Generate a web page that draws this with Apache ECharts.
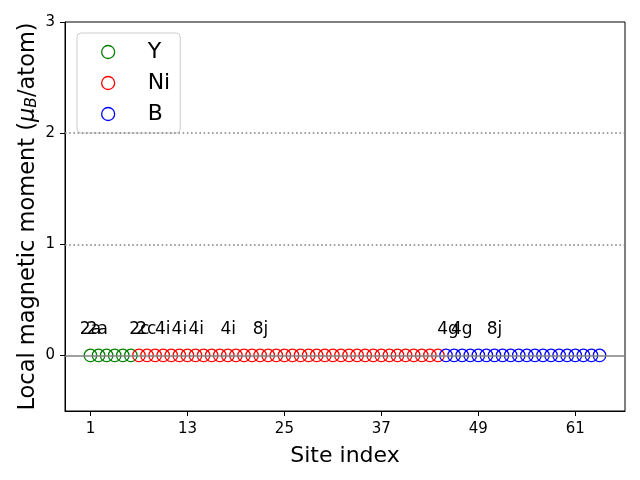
<!DOCTYPE html>
<html>
<head>
<meta charset="utf-8">
<script src="https://cdn.jsdelivr.net/npm/echarts@6/dist/echarts.min.js"></script>
<style>html,body{margin:0;padding:0;background:#fff}#c{width:640px;height:480px}</style>
</head>
<body>
<div id="c"></div>
<script>
// Site indices and local moments per element
const ySites = [1, 2, 3, 4, 5, 6];
const yMoments = [0, 0, 0, 0, 0, 0];
const niSites = [7, 8, 9, 10, 11, 12, 13, 14, 15, 16, 17, 18, 19, 20, 21, 22, 23, 24, 25,
  26, 27, 28, 29, 30, 31, 32, 33, 34, 35, 36, 37, 38, 39, 40, 41, 42, 43, 44];
const niMoments = [0, 0, 0, 0, 0, 0, 0, 0, 0, 0, 0, 0, 0, 0, 0, 0, 0, 0, 0,
  0, 0, 0, 0, 0, 0, 0, 0, 0, 0, 0, 0, 0, 0, 0, 0, 0, 0, 0];
const bSites = [45, 46, 47, 48, 49, 50, 51, 52, 53, 54, 55, 56, 57, 58, 59, 60, 61, 62, 63, 64];
const bMoments = [0, 0, 0, 0, 0, 0, 0, 0, 0, 0, 0, 0, 0, 0, 0, 0, 0, 0, 0, 0];

// Wyckoff annotations
const wyckoffLabels = ['2a', '2a', '2c', '2c', '4i', '4i', '4i', '4i', '8j', '4g', '4g', '8j'];
const wyckoffX = [1.0, 1.85, 7.05, 7.9, 9.95, 12.0, 14.1, 18.05, 22.05, 45.25, 46.95, 51.0];
const wyckoffY = [0.155, 0.155, 0.155, 0.155, 0.155, 0.155, 0.155, 0.155, 0.155, 0.155, 0.155, 0.155];

const xTicks = [1, 13, 25, 37, 49, 61];
const yTicks = [0, 1, 2, 3];
const refLines = [0, 1, 2];

const FONT = 'DejaVu Sans';
const pair = (xs, ys) => xs.map((x, i) => [x, ys[i]]);

function hollow(name, color, xs, ys) {
  return {
    name: name, type: 'scatter', data: pair(xs, ys),
    symbol: 'circle', symbolSize: 12.5,
    itemStyle: { color: 'rgba(0,0,0,0)', borderColor: color, borderWidth: 1.3, opacity: 1 },
    z: 3, silent: true
  };
}

const chart = echarts.init(document.getElementById('c'), null, { renderer: 'canvas' });
chart.setOption({
  animation: false,
  backgroundColor: '#fff',
  textStyle: { fontFamily: FONT },
  grid: { left: 65, right: 15, top: 22, bottom: 69, show: true, borderColor: '#000', borderWidth: 1, backgroundColor: 'transparent' },
  xAxis: {
    type: 'value', min: -2.15, max: 67.15,
    name: 'Site index', nameLocation: 'middle', nameGap: 34, nameMoveOverlap: false,
    nameTextStyle: { fontSize: 22, color: '#000', fontFamily: FONT },
    axisLine: { show: true, onZero: false, lineStyle: { color: '#000', width: 1 } },
    axisTick: { show: true, length: 5, customValues: xTicks, lineStyle: { color: '#000' } },
    axisLabel: { customValues: xTicks, fontSize: 15, color: '#000', margin: 11, fontFamily: FONT },
    splitLine: { show: false }
  },
  yAxis: {
    type: 'value', min: -0.5, max: 3,
    name: 'Local magnetic moment ({mu|μ}{sub|B}/atom)', nameLocation: 'middle', nameGap: 25, nameRotate: 90,
    nameMoveOverlap: false,
    nameTextStyle: {
      fontSize: 22.5, color: '#000', fontFamily: FONT,
      rich: {
        mu: { fontSize: 22.5, fontStyle: 'italic', color: '#000', fontFamily: FONT },
        sub: { fontSize: 15.5, fontStyle: 'italic', color: '#000', fontFamily: FONT, verticalAlign: 'bottom', padding: [8, 0, 0, 0] }
      }
    },
    axisLine: { show: true, onZero: false, lineStyle: { color: '#000', width: 1 } },
    axisTick: { show: true, length: 5, customValues: yTicks, lineStyle: { color: '#000' } },
    axisLabel: { customValues: yTicks, fontSize: 15, color: '#000', margin: 10, fontFamily: FONT },
    splitLine: { show: false }
  },
  legend: {
    orient: 'vertical', left: 77, top: 33,
    backgroundColor: 'rgba(255,255,255,0.8)', borderColor: '#cccccc', borderWidth: 1, borderRadius: 4,
    padding: [8, 10, 8, 24], itemWidth: 13, itemHeight: 13, itemGap: 9,
    textStyle: { fontSize: 22, lineHeight: 22, color: '#000', fontFamily: FONT, padding: [0, 0, 0, 28] },
    data: [
      { name: 'Y', icon: 'circle', itemStyle: { color: 'rgba(0,0,0,0)', borderColor: 'green', borderWidth: 1.3 } },
      { name: 'Ni', icon: 'circle', itemStyle: { color: 'rgba(0,0,0,0)', borderColor: 'red', borderWidth: 1.3 } },
      { name: 'B', icon: 'circle', itemStyle: { color: 'rgba(0,0,0,0)', borderColor: 'blue', borderWidth: 1.3 } }
    ]
  },
  series: [
    {
      name: 'ref', type: 'line', data: [], silent: true, z: 1,
      markLine: {
        silent: true, symbol: 'none', label: { show: false },
        data: refLines.map((v, i) => ({
          yAxis: v,
          lineStyle: i === 0 ? { color: '#808080', width: 1.6, type: 'solid' }
                             : { color: '#808080', width: 1.6, type: [1.6, 2.6] }
        }))
      }
    },
    hollow('Y', 'green', ySites, yMoments),
    hollow('Ni', 'red', niSites, niMoments),
    hollow('B', 'blue', bSites, bMoments),
    {
      name: 'wyckoff', type: 'scatter', silent: true, z: 5,
      symbol: 'circle', symbolSize: 0, itemStyle: { color: '#000', opacity: 1 },
      data: wyckoffX.map((x, i) => ({ value: [x, wyckoffY[i]], name: wyckoffLabels[i] })),
      label: { show: true, position: 'top', distance: 0, formatter: p => p.name, fontSize: 17, color: '#000', opacity: 1, fontFamily: FONT },
      labelLayout: { hideOverlap: false }
    }
  ]
});
</script>
</body>
</html>
